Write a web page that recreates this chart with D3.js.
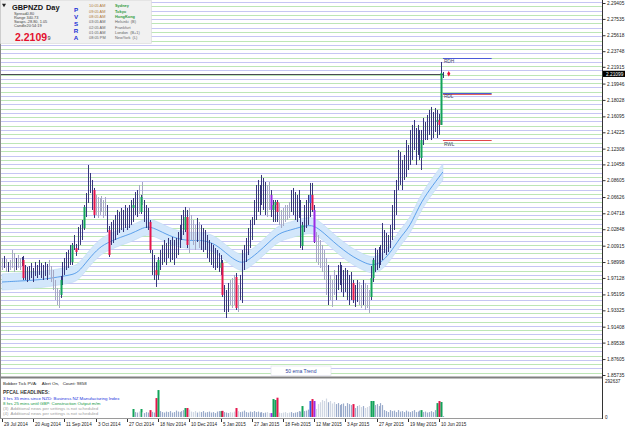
<!DOCTYPE html>
<html>
<head>
<meta charset="utf-8">
<script src="https://cdn.jsdelivr.net/npm/d3@7"></script>
<style>
  body { margin: 0; background: #fff; }
  svg { display: block; font-family: "Liberation Sans", Arial, sans-serif; }
</style>
</head>
<body>
<svg id="chart" width="625" height="429"></svg>
<script>
// ---- data ----
const dateLabels = ['29 Jul 2014', '20 Aug 2014', '11 Sep 2014', '3 Oct 2014', '27 Oct 2014', '18 Nov 2014',
  '10 Dec 2014', '5 Jan 2015', '27 Jan 2015', '18 Feb 2015', '12 Mar 2015', '3 Apr 2015', '27 Apr 2015',
  '19 May 2015', '10 Jun 2015'];
const dateTickBars = [0, 16, 32, 48, 64, 80, 96, 112, 128, 144, 160, 176, 192, 208, 224];

const priceTicks = [2.29405, 2.27535, 2.25618, 2.23748, 2.21915, 2.19946, 2.18028, 2.16095, 2.14225, 2.12308,
  2.10458, 2.08605, 2.06626, 2.04718, 2.02848, 2.00915, 1.98998, 1.97128, 1.95195, 1.93325, 1.91408,
  1.89538, 1.87605, 1.85735];

// bar colour codes: n normal, g grey (low volume), G green climax, R red climax, B blue rising, P purple
const cats = ('gngngggngg' + 'nRnnnnnnnn' + 'nnnngggggg' + 'GnnnnnGnRn' + 'nnGnnnnRgg' + 'ggggnRnnnn' +
  'nnnnnnnGnn' + 'gGgnnnRnnR' + 'Gnnnnnnnnn' + 'nnnnGRgggg' + 'ngnnnnnnnn' + 'nnGRnnnggg' +
  'Rgnnnnnnnn' + 'nnnnnnggPG' + 'GRggggggnn' + 'nnnnGnnnBR' + 'Pggggggngg' + 'gnnnnnnnnn' +
  'RnnggngggG' + 'Gnnnnnnnnn' + 'nnnnnnnnnn' + 'nnnnnGnnnn' + 'nnnGRGn').split('');

const high = [
  1.9947, 1.9971, 1.9935, 1.9900, 1.9924, 2.0041, 2.0006, 1.9947, 1.9982, 1.9947,
  1.9959, 1.9971, 1.9865, 1.9841, 1.9853, 1.9888, 1.9830, 1.9900, 1.9865, 1.9924,
  1.9888, 1.9865, 1.9900, 1.9877, 1.9924, 1.9853, 1.9806, 1.9689, 1.9595, 1.9571,
  1.9736, 1.9900, 1.9947, 2.0017, 2.0041, 2.0100, 2.0123, 2.0217, 2.0111, 2.0311,
  2.0335, 2.0393, 2.0569, 2.0710, 2.1039, 2.0945, 2.0863, 2.0769, 2.0687, 2.0663,
  2.0651, 2.0675, 2.0628, 2.0663, 2.0569, 2.0323, 2.0370, 2.0393, 2.0452, 2.0511,
  2.0487, 2.0534, 2.0511, 2.0569, 2.0534, 2.0569, 2.0628, 2.0651, 2.0722, 2.0745,
  2.0804, 2.0687, 2.0839, 2.0628, 2.0569, 2.0534, 2.0393, 2.0041, 1.9982, 1.9900,
  1.9959, 2.0041, 2.0100, 2.0158, 2.0123, 2.0182, 2.0158, 2.0194, 2.0158, 2.0182,
  2.0252, 2.0335, 2.0452, 2.0511, 2.0546, 2.0511, 2.0534, 2.0452, 2.0393, 2.0335,
  2.0417, 2.0370, 2.0335, 2.0299, 2.0276, 2.0217, 2.0158, 2.0123, 2.0100, 2.0064,
  2.0041, 2.0006, 1.9982, 1.9924, 1.9630, 1.9571, 1.9654, 1.9689, 1.9712, 1.9748,
  1.9771, 1.9630, 1.9748, 2.0041, 2.0100, 2.0182, 2.0299, 2.0393, 2.0428, 2.0628,
  2.0804, 2.0863, 2.0804, 2.0922, 2.0886, 2.0839, 2.0804, 2.0839, 2.0745, 2.0628,
  2.0628, 2.0628, 2.0593, 2.0511, 2.0534, 2.0569, 2.0569, 2.0604, 2.0745, 2.0769,
  2.0722, 2.0687, 2.0745, 2.0628, 2.0370, 2.0569, 2.0628, 2.0687, 2.0828, 2.0828,
  2.0569, 2.0252, 2.0217, 2.0158, 2.0100, 2.0041, 1.9947, 1.9865, 1.9748, 1.9689,
  1.9806, 1.9748, 1.9865, 1.9900, 1.9865, 1.9806, 1.9830, 1.9806, 1.9748, 1.9783,
  1.9689, 1.9630, 1.9689, 1.9665, 1.9630, 1.9689, 1.9654, 1.9630, 1.9571, 1.9853,
  1.9947, 2.0064, 2.0041, 2.0076, 2.0100, 2.0358, 2.0276, 2.0241, 2.0217, 2.0335,
  2.0569, 2.0745, 2.0863, 2.1215, 2.1192, 2.1098, 2.1156, 2.1332, 2.1274, 2.1450,
  2.1509, 2.1567, 2.1473, 2.1509, 2.1450, 2.1450, 2.1591, 2.1544, 2.1626, 2.1685,
  2.1720, 2.1661, 2.1708, 2.1685, 2.1638, 2.2248, 2.2131];

const low = [
  1.9806, 1.9830, 1.9783, 1.9783, 1.9806, 1.9830, 1.9783, 1.9806, 1.9830, 1.9806,
  1.9853, 1.9689, 1.9689, 1.9665, 1.9689, 1.9712, 1.9665, 1.9736, 1.9712, 1.9748,
  1.9712, 1.9689, 1.9736, 1.9689, 1.9748, 1.9665, 1.9571, 1.9454, 1.9395, 1.9360,
  1.9478, 1.9630, 1.9748, 1.9806, 1.9830, 1.9865, 1.9865, 2.0041, 1.9971, 2.0041,
  2.0100, 2.0158, 2.0276, 2.0428, 2.0593, 2.0710, 2.0511, 2.0417, 2.0452, 2.0417,
  2.0452, 2.0487, 2.0417, 2.0440, 2.0252, 1.9959, 2.0100, 2.0123, 2.0158, 2.0217,
  2.0241, 2.0276, 2.0252, 2.0299, 2.0276, 2.0299, 2.0335, 2.0370, 2.0452, 2.0428,
  2.0464, 2.0464, 2.0569, 2.0370, 2.0299, 2.0276, 2.0006, 1.9748, 1.9689, 1.9607,
  1.9689, 1.9806, 1.9865, 1.9900, 1.9865, 1.9947, 1.9900, 1.9924, 1.9865, 1.9947,
  1.9982, 2.0064, 2.0158, 2.0217, 2.0252, 2.0064, 2.0006, 2.0158, 2.0100, 2.0041,
  2.0135, 2.0064, 2.0041, 2.0017, 2.0041, 1.9947, 1.9900, 1.9865, 1.9830, 1.9806,
  1.9830, 1.9783, 1.9748, 1.9489, 1.9313, 1.9243, 1.9313, 1.9395, 1.9360, 1.9395,
  1.9337, 1.9313, 1.9454, 1.9419, 1.9806, 1.9900, 1.9982, 2.0064, 2.0158, 2.0335,
  2.0393, 2.0487, 2.0452, 2.0569, 2.0511, 2.0452, 2.0428, 2.0511, 2.0428, 2.0370,
  2.0370, 2.0370, 2.0335, 2.0299, 2.0323, 2.0370, 2.0393, 2.0417, 2.0487, 2.0452,
  2.0393, 2.0370, 2.0417, 2.0064, 2.0041, 2.0252, 2.0299, 2.0335, 2.0428, 2.0487,
  2.0123, 1.9900, 1.9865, 1.9830, 1.9783, 1.9689, 1.9513, 1.9395, 1.9454, 1.9372,
  1.9513, 1.9454, 1.9571, 1.9630, 1.9548, 1.9489, 1.9548, 1.9454, 1.9395, 1.9454,
  1.9419, 1.9372, 1.9431, 1.9395, 1.9360, 1.9395, 1.9337, 1.9360, 1.9302, 1.9454,
  1.9665, 1.9783, 1.9806, 1.9830, 1.9865, 1.9924, 2.0006, 1.9982, 2.0017, 2.0064,
  2.0158, 2.0276, 2.0452, 2.0745, 2.0804, 2.0745, 2.0863, 2.0898, 2.0980, 2.1039,
  2.1098, 2.1215, 2.1039, 2.1156, 2.1098, 2.0980, 2.1274, 2.1332, 2.1332, 2.1391,
  2.1332, 2.1356, 2.1426, 2.1356, 2.1391, 2.1509, 2.2060];

const close = [
  1.9865, 1.9900, 1.9830, 1.9865, 1.9900, 1.9947, 1.9865, 1.9900, 1.9924, 1.9865,
  1.9924, 1.9712, 1.9806, 1.9748, 1.9806, 1.9830, 1.9736, 1.9853, 1.9806, 1.9865,
  1.9783, 1.9806, 1.9830, 1.9783, 1.9853, 1.9712, 1.9595, 1.9513, 1.9454, 1.9513,
  1.9689, 1.9806, 1.9900, 1.9947, 1.9982, 1.9900, 2.0100, 2.0064, 2.0017, 2.0252,
  2.0276, 2.0299, 2.0546, 2.0628, 2.0804, 2.0769, 2.0745, 2.0452, 2.0569, 2.0511,
  2.0604, 2.0569, 2.0511, 2.0534, 2.0276, 1.9982, 2.0217, 2.0276, 2.0335, 2.0417,
  2.0335, 2.0452, 2.0393, 2.0487, 2.0393, 2.0511, 2.0534, 2.0569, 2.0628, 2.0511,
  2.0487, 2.0663, 2.0745, 2.0511, 2.0452, 2.0370, 2.0041, 1.9865, 1.9806, 1.9748,
  1.9924, 1.9900, 1.9947, 2.0041, 1.9982, 2.0064, 1.9982, 2.0100, 1.9947, 2.0041,
  2.0158, 2.0252, 2.0335, 2.0276, 2.0428, 2.0100, 2.0276, 2.0335, 2.0217, 2.0252,
  2.0299, 2.0182, 2.0158, 2.0100, 2.0158, 2.0041, 1.9982, 1.9947, 1.9900, 1.9865,
  1.9924, 1.9830, 1.9888, 1.9513, 1.9454, 1.9395, 1.9478, 1.9571, 1.9454, 1.9724,
  1.9360, 1.9513, 1.9665, 1.9982, 2.0017, 2.0100, 2.0217, 2.0299, 2.0370, 2.0511,
  2.0687, 2.0745, 2.0687, 2.0863, 2.0687, 2.0628, 2.0569, 2.0687, 2.0511, 2.0569,
  2.0604, 2.0487, 2.0475, 2.0335, 2.0452, 2.0511, 2.0464, 2.0534, 2.0628, 2.0687,
  2.0569, 2.0511, 2.0628, 2.0088, 2.0335, 2.0452, 2.0511, 2.0593, 2.0687, 2.0511,
  2.0135, 2.0041, 2.0100, 1.9982, 1.9900, 1.9830, 1.9630, 1.9513, 1.9571, 1.9454,
  1.9689, 1.9595, 1.9806, 1.9748, 1.9630, 1.9689, 1.9712, 1.9571, 1.9630, 1.9654,
  1.9454, 1.9513, 1.9571, 1.9548, 1.9478, 1.9571, 1.9454, 1.9513, 1.9489, 1.9712,
  1.9924, 1.9982, 1.9900, 1.9982, 2.0041, 2.0276, 2.0158, 2.0100, 2.0182, 2.0252,
  2.0452, 2.0628, 2.0745, 2.1098, 2.0980, 2.0922, 2.1039, 2.1215, 2.1156, 2.1332,
  2.1391, 2.1450, 2.1332, 2.1391, 2.1121, 2.1332, 2.1509, 2.1450, 2.1509, 2.1591,
  2.1509, 2.1473, 2.1544, 2.1568, 2.1509, 2.2119, 2.21099];

// tick volume of the later bars (first value belongs to bar 67)
const volumeFirstBar = 67;
const volume = [
  65000, 40000, 36000, 45000, 65000, 38000, 32000, 40000, 36000, 56000,
  42000, 36000, 154000, 219000, 48000, 40000, 36000, 44000, 40000, 48000,
  36000, 40000, 52000, 44000, 40000, 48000, 56000, 73000, 73000, 60000,
  44000, 40000, 48000, 36000, 44000, 40000, 48000, 36000, 40000, 44000,
  36000, 40000, 32000, 44000, 48000, 48000, 50000, 40000, 36000, 32000,
  40000, 36000, 44000, 73000, 48000, 40000, 44000, 52000, 40000, 36000,
  44000, 40000, 48000, 40000, 44000, 36000, 40000, 32000, 36000, 40000,
  32000, 32000, 146000, 138000, 157000, 36000, 32000, 36000, 40000, 32000,
  36000, 40000, 32000, 36000, 40000, 48000, 44000, 89000, 48000, 52000,
  60000, 130000, 146000, 130000, 65000, 105000, 120000, 138000, 130000, 150000,
  120000, 130000, 110000, 122000, 105000, 113000, 97000, 105000, 110000, 89000,
  113000, 105000, 97000, 105000, 73000, 89000, 97000, 81000, 89000, 73000,
  81000, 89000, 130000, 130000, 97000, 105000, 89000, 113000, 97000, 56000,
  48000, 40000, 56000, 48000, 52000, 40000, 56000, 44000, 48000, 40000,
  52000, 44000, 40000, 48000, 56000, 40000, 44000, 52000, 56000, 40000,
  44000, 36000, 40000, 48000, 40000, 56000, 113000, 130000, 122000, 8000];
const volumeMax = 292637;

// 50 ema trend line, read at a few bars
const emaBars = [0, 9, 19, 29, 35, 39, 44, 50, 55, 61, 66, 71, 75, 80, 88, 96, 101, 107, 112, 117, 122, 125,
  131, 137, 142, 148, 153, 158, 161, 165, 170, 175, 180, 185, 190, 195, 200, 205, 209, 214, 219, 226];
const emaValues = [1.9665, 1.9677, 1.9689, 1.9724, 1.9748, 1.9771, 1.9924, 2.0076, 2.0135, 2.0194, 2.0229,
  2.0288, 2.0323, 2.0276, 2.0182, 2.0147, 2.0158, 2.0135, 2.0064, 1.9959, 1.9888, 1.9900, 2.0006, 2.0135,
  2.0241, 2.0276, 2.0311, 2.0335, 2.0311, 2.0241, 2.0135, 2.0041, 1.9959, 1.9900, 1.9853, 1.9900, 2.0041,
  2.0217, 2.0311, 2.0569, 2.0745, 2.0957];
const emaBandHalf = 0.0095;

// range levels drawn right of the last bar (an empty name draws no label)
const levelNames = ['RDH', '', 'RDL', 'RWL'];
const levelValues = [2.2295, 2.1873, 2.1884, 2.1332];
const levelColors = ['#4a5ad8', '#e06060', '#4a5ad8', '#e04848'];
const levelSpan = [226, 251];

const clockTimes = ['10:05 AM', '09:05 AM', '08:05 AM', '03:05 AM', '02:05 AM', '01:05 AM', '08:05 PM'];
const clockCities = ['Sydney', 'Tokyo', 'HongKong', 'Helsinki  (B)', 'Frankfurt', 'London  (B+1)', 'NewYork  (L)'];
const infoNames = ['Spread', 'Range', 'Swaps', 'Candle'];
const infoValues = ['0.80', '340.73', '-28.80, 1.05', '20:54:19'];
const newsLines = ['3 hrs 35 mins since NZD: Business NZ Manufacturing Index',
  '8 hrs 25 mins until GBP: Construction Output m/m',
  '(3)  Additional news per settings is not scheduled',
  '(4)  Additional news per settings is not scheduled'];

// ---- drawing ----
const svg = d3.select('#chart');
const plotW = 602, plotH = 376;
const catColor = { n: '#36367a', g: '#a6a8c4', G: '#12a35a', R: '#e5154c', B: '#2a5be8', P: '#9a2be6' };
const volColor = { n: '#9aabcb', g: '#d0d7e3', G: '#12a35a', R: '#e5154c', B: '#2a5be8', P: '#9a2be6' };

const x = d3.scaleLinear().domain([0, 224]).range([2, 439]);
const y = d3.scaleLinear().domain([1.85735, 2.29405]).range([375, 3]);
const yVol = d3.scaleLinear().domain([0, volumeMax]).range([417, 381]);
const px = i => Math.round(x(i)) + 0.5;

svg.append('defs').append('clipPath').attr('id', 'plotclip')
  .append('rect').attr('width', plotW).attr('height', plotH);
const plot = svg.append('g').attr('clip-path', 'url(#plotclip)');

// round-number lines
const gridLevels = d3.range(1.850, 2.3001, 0.005);
plot.selectAll('line.grid').data(gridLevels).join('line')
  .attr('class', 'grid')
  .attr('x1', 0).attr('x2', plotW)
  .attr('y1', d => Math.round(y(d)) + 0.5).attr('y2', d => Math.round(y(d)) + 0.5)
  .attr('stroke', (d, i) => i % 2 ? '#c6c6f3' : '#bde6b6')
  .attr('stroke-width', 1);

// ema band
const ema = emaBars.map((b, i) => ({ b: b, v: emaValues[i] }));
plot.append('path').datum(ema)
  .attr('d', d3.area().curve(d3.curveBasis)
    .x(d => x(d.b)).y0(d => y(d.v - emaBandHalf)).y1(d => y(d.v + emaBandHalf)))
  .attr('fill', '#d3e7fb').attr('stroke', '#bdd8f3').attr('stroke-width', 0.6);
plot.append('path').datum(ema)
  .attr('d', d3.line().curve(d3.curveBasis).x(d => x(d.b)).y(d => y(d.v)))
  .attr('fill', 'none').attr('stroke', '#3d8ee6').attr('stroke-width', 0.8);

// price line
const last = close.length - 1;
plot.append('line')
  .attr('x1', 0).attr('x2', px(last))
  .attr('y1', Math.round(y(close[last])) + 0.5).attr('y2', Math.round(y(close[last])) + 0.5)
  .attr('stroke', '#4a4a54').attr('stroke-width', 1);

// bars
const bars = high.map((h, i) => ({ i: i, h: h, l: low[i], c: close[i], o: i ? close[i - 1] : close[i], cat: cats[i] }));
plot.selectAll('line.bar').data(bars).join('line')
  .attr('class', 'bar')
  .attr('x1', d => px(d.i)).attr('x2', d => px(d.i))
  .attr('y1', d => y(d.h)).attr('y2', d => y(d.l))
  .attr('stroke', d => d.cat === 'g' ? catColor.g : catColor.n)
  .attr('stroke-width', 1);
plot.selectAll('rect.body').data(bars.filter(d => 'GRBP'.includes(d.cat))).join('rect')
  .attr('class', 'body')
  .attr('x', d => px(d.i) - 1).attr('width', 2)
  .attr('y', d => y(Math.max(d.o, d.c)))
  .attr('height', d => Math.max(1, Math.abs(y(d.o) - y(d.c))))
  .attr('fill', d => catColor[d.cat]);

// range levels
const levels = levelNames.map((n, i) => ({ n: n, v: levelValues[i], c: levelColors[i] }));
plot.selectAll('line.level').data(levels).join('line')
  .attr('class', 'level')
  .attr('x1', x(levelSpan[0])).attr('x2', x(levelSpan[1]))
  .attr('y1', d => Math.round(y(d.v)) + 0.5).attr('y2', d => Math.round(y(d.v)) + 0.5)
  .attr('stroke', d => d.c).attr('stroke-width', 1.2);
plot.selectAll('text.level').data(levels.filter(d => d.n)).join('text')
  .attr('class', 'level')
  .attr('x', x(levelSpan[0]) + 1).attr('y', d => y(d.v) + 5.5)
  .attr('font-size', 4.8).attr('fill', '#444a66')
  .text(d => d.n);

// marker right of the last bar
plot.append('path')
  .attr('d', d3.symbol(d3.symbolDiamond, 9)())
  .attr('transform', `translate(${x(229)},${y(close[last])})`)
  .attr('fill', '#e8103a');

// "50 ema Trend" caption
svg.append('rect').attr('x', 271).attr('y', 366).attr('width', 60).attr('height', 9.5)
  .attr('fill', '#fff').attr('stroke', '#dcdcea').attr('stroke-width', 0.6);
svg.append('text').attr('x', 301).attr('y', 373).attr('text-anchor', 'middle')
  .attr('font-size', 5).attr('fill', '#2b3f9e').text('50 ema Trend');

// separators and frame
svg.append('line').attr('x1', 0).attr('x2', plotW).attr('y1', 377.5).attr('y2', 377.5)
  .attr('stroke', '#808080').attr('stroke-width', 2);
svg.append('line').attr('x1', 0).attr('x2', plotW).attr('y1', 418.5).attr('y2', 418.5)
  .attr('stroke', '#9a9a9a').attr('stroke-width', 1);
svg.append('line').attr('x1', 0.5).attr('x2', 0.5).attr('y1', 0).attr('y2', 418)
  .attr('stroke', '#888').attr('stroke-width', 1);
svg.append('line').attr('x1', plotW + 0.5).attr('x2', plotW + 0.5).attr('y1', 0).attr('y2', 419)
  .attr('stroke', '#333').attr('stroke-width', 1);

// right price axis
const axisG = svg.append('g').attr('transform', `translate(${plotW + 0.5},0)`);
axisG.call(d3.axisRight(y).tickValues(priceTicks).tickSize(3).tickPadding(1.5).tickFormat(d3.format('.5f')))
  .call(g => g.select('.domain').remove())
  .call(g => g.selectAll('line').attr('stroke', '#333'))
  .call(g => g.selectAll('text').attr('font-size', 4.8).attr('fill', '#222')
    .attr('font-family', '"Liberation Sans", Arial, sans-serif'));

// current price tag
const cy = y(close[last]);
svg.append('rect').attr('x', plotW + 1).attr('y', cy - 3).attr('width', 22).attr('height', 6.2).attr('fill', '#000');
svg.append('text').attr('x', plotW + 4).attr('y', cy + 1.8).attr('font-size', 4.8).attr('fill', '#fff')
  .text(d3.format('.5f')(close[last]));

// volume panel
const vols = volume.map((v, j) => ({ i: volumeFirstBar + j, v: v, cat: cats[volumeFirstBar + j] }));
svg.selectAll('rect.vol').data(vols).join('rect')
  .attr('class', 'vol')
  .attr('x', d => 'GRBP'.includes(d.cat) ? px(d.i) - 1 : px(d.i) - 0.6)
  .attr('width', d => 'GRBP'.includes(d.cat) ? 2 : 1.2)
  .attr('y', d => yVol(d.v)).attr('height', d => yVol(0) - yVol(d.v))
  .attr('fill', d => volColor[d.cat]);
svg.append('text').attr('x', plotW + 3).attr('y', yVol(volumeMax) + 1.5).attr('font-size', 4.6).attr('fill', '#222')
  .text(volumeMax);
svg.append('text').attr('x', plotW + 3).attr('y', yVol(0) + 1.5).attr('font-size', 4.6).attr('fill', '#222').text('0');

// panel texts
const panelT = svg.append('g').attr('font-size', 4.4);
panelT.append('text').attr('x', 3).attr('y', 384.5).attr('fill', '#222')
  .attr('xml:space', 'preserve').text('Bobber Tick PVA:    Alert On,   Count: 9858');
panelT.append('text').attr('x', 3).attr('y', 393.5).attr('fill', '#333').attr('font-size', 4.8)
  .attr('font-weight', 'bold').text('PFCAL HEADLINES:');
panelT.selectAll('text.news').data(newsLines).join('text')
  .attr('class', 'news')
  .attr('x', 3).attr('y', (d, i) => 399.5 + i * 5)
  .attr('xml:space', 'preserve')
  .attr('fill', (d, i) => ['#2233dd', '#119944', '#a0a0a0', '#a0a0a0'][i])
  .text(d => d);

// date axis
const dates = svg.append('g');
dates.selectAll('line').data(dateTickBars).join('line')
  .attr('x1', d => px(d)).attr('x2', d => px(d)).attr('y1', 419).attr('y2', 422)
  .attr('stroke', '#333');
dates.selectAll('text').data(dateTickBars).join('text')
  .attr('x', d => px(d) + 1.5).attr('y', 425.8)
  .attr('font-size', 4.6).attr('fill', '#222')
  .text((d, i) => dateLabels[i]);

// info box (top left)
const info = svg.append('g');
info.append('rect').attr('x', 0.5).attr('y', 0.5).attr('width', 151).attr('height', 43)
  .attr('fill', '#f1f1f1').attr('stroke', '#d8d8d8').attr('stroke-width', 0.6);
info.append('path').attr('d', d3.symbol(d3.symbolTriangle, 7)())
  .attr('transform', 'translate(4,5) rotate(180)').attr('fill', '#222');
info.append('text').attr('x', 12).attr('y', 10).attr('font-size', 7.4).attr('font-weight', 'bold')
  .attr('fill', '#111').text('GBPNZD');
info.append('text').attr('x', 46).attr('y', 10).attr('font-size', 7.4).attr('font-weight', 'bold')
  .attr('fill', '#111').text('Day');
info.selectAll('text.iname').data(infoNames).join('text')
  .attr('class', 'iname').attr('x', 14).attr('y', (d, i) => 15 + i * 4.1)
  .attr('font-size', 3.9).attr('fill', '#444').text(d => d);
info.selectAll('text.ival').data(infoValues).join('text')
  .attr('class', 'ival').attr('x', 26.5).attr('y', (d, i) => 15 + i * 4.1)
  .attr('font-size', 3.9).attr('fill', '#444').text(d => d);
const priceStr = d3.format('.5f')(close[last]);
info.append('text').attr('x', 15).attr('y', 41).attr('font-size', 10.5).attr('font-weight', 'bold')
  .attr('fill', '#e4102e').text(priceStr.slice(0, 6));
info.append('text').attr('x', 47.5).attr('y', 40).attr('font-size', 5.5).attr('fill', '#333')
  .text(priceStr.slice(6));
info.selectAll('text.pvsra').data('PVSRA'.split('')).join('text')
  .attr('class', 'pvsra').attr('x', 76).attr('y', (d, i) => 11.5 + i * 7)
  .attr('text-anchor', 'middle').attr('font-size', 6.2).attr('font-weight', 'bold')
  .attr('fill', '#1b30d6').text(d => d);
info.selectAll('text.ctime').data(clockTimes).join('text')
  .attr('class', 'ctime').attr('x', 89).attr('y', (d, i) => 7.3 + i * 5.35)
  .attr('font-size', 3.9).attr('fill', (d, i) => i < 3 ? '#b07a3a' : '#666').text(d => d);
info.selectAll('text.ccity').data(clockCities).join('text')
  .attr('class', 'ccity').attr('x', 115).attr('y', (d, i) => 7.3 + i * 5.35)
  .attr('xml:space', 'preserve')
  .attr('font-size', 3.9).attr('fill', (d, i) => i < 3 ? '#2e9a3a' : '#666')
  .attr('font-weight', (d, i) => i < 3 ? 'bold' : 'normal').text(d => d);
</script>
</body>
</html>
